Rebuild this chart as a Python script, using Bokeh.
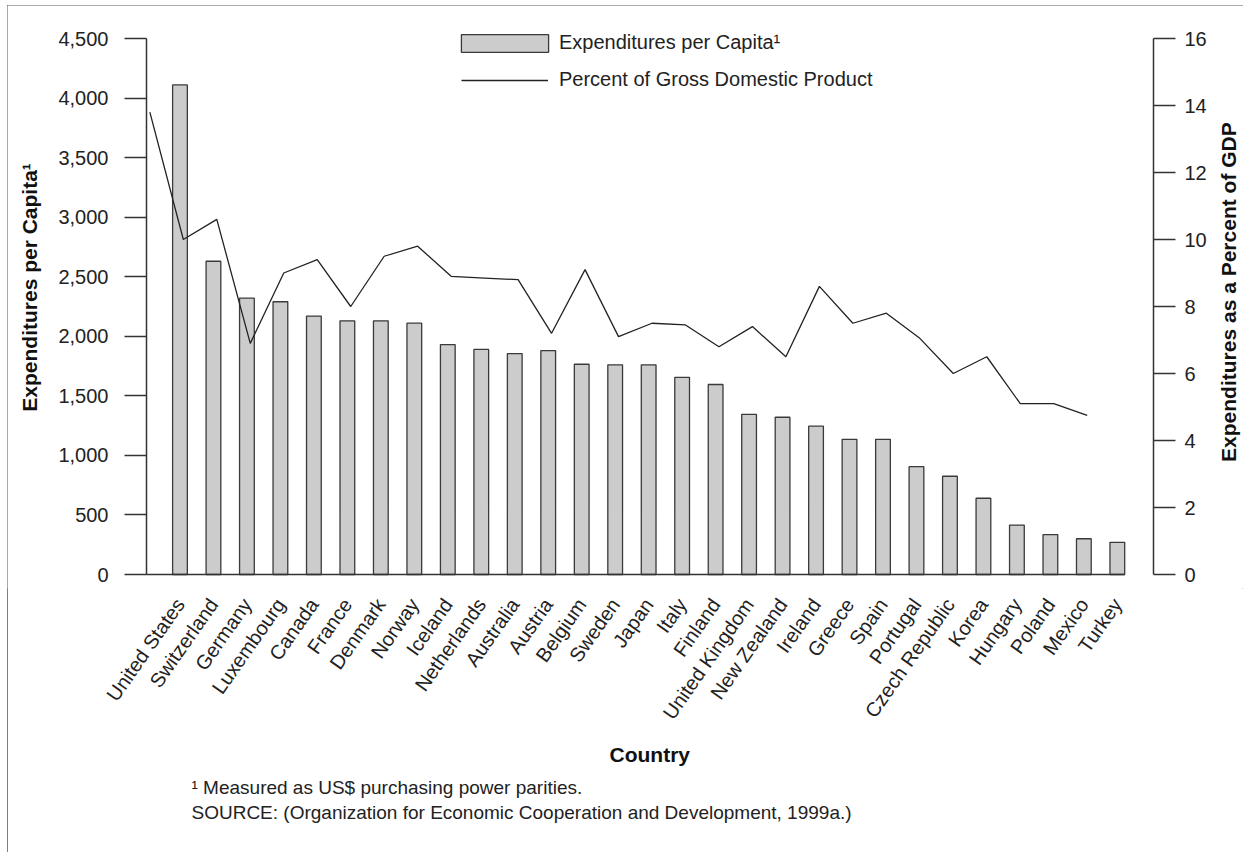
import numpy as np
from math import pi
from bokeh.plotting import figure
from bokeh.models import (Range1d, LinearAxis, FixedTicker, NumeralTickFormatter,
                          Legend, LegendItem, Title, Label)
from bokeh.embed import file_html
from bokeh.resources import INLINE

# ---------------- data ----------------
countries = ["United States", "Switzerland", "Germany", "Luxembourg", "Canada",
             "France", "Denmark", "Norway", "Iceland", "Netherlands", "Australia",
             "Austria", "Belgium", "Sweden", "Japan", "Italy", "Finland",
             "United Kingdom", "New Zealand", "Ireland", "Greece", "Spain",
             "Portugal", "Czech Republic", "Korea", "Hungary", "Poland",
             "Mexico", "Turkey"]
per_capita = [4110, 2630, 2320, 2290, 2170, 2130, 2130, 2110, 1930, 1890, 1855,
              1880, 1765, 1760, 1760, 1655, 1595, 1345, 1320, 1245, 1135, 1135,
              905, 825, 640, 415, 335, 300, 270]
pct_gdp = [13.8, 10.0, 10.6, 6.9, 9.0, 9.4, 8.0, 9.5, 9.8, 8.9, 8.85, 8.8, 7.2,
           9.1, 7.1, 7.5, 7.45, 6.8, 7.4, 6.5, 8.6, 7.5, 7.8, 7.05, 6.0, 6.5,
           5.1, 5.1, 4.75]
left_ticks = [0, 500, 1000, 1500, 2000, 2500, 3000, 3500, 4000, 4500]
right_ticks = [0, 2, 4, 6, 8, 10, 12, 14, 16]

FONT = "Liberation Sans"
AX = "#333333"
n = len(countries)
bar_x = np.arange(1, n + 1)
line_x = np.arange(n) + 0.1   # the line is drawn shifted as in the original

# ---- layout helpers (pixels); the plot area fills the canvas width and the
# ---- value axes sit inside it at fixed positions
W, H = 1236, 847
AXIS_PX = 536.0          # height of the value axes
TOP_PAD_PX = 33.0        # room above the axes (legend)
BOT_PAD_PX = 14.0        # room below the zero line (lowest tick labels)
PX_PER_CAT = 33.477      # horizontal spacing of the bars
LEFT_PAD_PX = 139.0      # from canvas left to the left axis

left_max = left_ticks[-1]
right_max = right_ticks[-1]
x_start = -LEFT_PAD_PX / PX_PER_CAT
x_end = x_start + W / PX_PER_CAT
RIGHT_AXIS_X = 30.08     # category-units position of the right axis


def vrange(top):
    return Range1d(-top * BOT_PAD_PX / AXIS_PX, top * (AXIS_PX + TOP_PAD_PX) / AXIS_PX)


frame_h = AXIS_PX + TOP_PAD_PX + BOT_PAD_PX
p = figure(width=W, height=H, output_backend="svg", toolbar_location=None,
           x_range=Range1d(x_start, x_end), y_range=vrange(left_max),
           min_border_left=0, min_border_right=0, min_border_top=0,
           min_border_bottom=int(H - frame_h))
p.outline_line_color = None
p.xgrid.grid_line_color = None
p.ygrid.grid_line_color = None
p.background_fill_color = "white"
p.border_fill_color = "white"
p.styles = {"margin-left": "7px", "margin-top": "5px",
            "outline": "1px solid #555555", "outline-offset": "-1px"}

p.extra_y_ranges = {"pct": vrange(right_max)}

bars = p.vbar(x=bar_x, top=per_capita, width=0.44, fill_color="#cccccc",
              line_color="#3a3a3a", line_width=1.3)
line = p.line(x=line_x, y=pct_gdp, y_range_name="pct", line_color="#222222",
              line_width=1.3)
p.segment(x0=[0], y0=[0], x1=[n + 0.22], y1=[0], line_color=AX, line_width=1.5)

# x axis (country labels only)
xa = p.xaxis[0]
xa.ticker = FixedTicker(ticks=[int(v) for v in bar_x])
xa.major_label_overrides = {int(i): c for i, c in zip(bar_x, countries)}
xa.axis_line_color = None
xa.major_tick_line_color = None
xa.major_tick_out = 0
xa.major_tick_in = 0
xa.minor_tick_line_color = None
xa.major_label_orientation = 55 * pi / 180
xa.major_label_text_font = FONT
xa.major_label_text_font_size = "20px"
xa.major_label_text_color = "#222222"
xa.major_label_standoff = 12

# left axis
ya = p.yaxis[0]
ya.ticker = FixedTicker(ticks=left_ticks)
ya.formatter = NumeralTickFormatter(format="0,0")
ya.bounds = (0, left_max)
ya.fixed_location = 0

# right axis
ra = LinearAxis(y_range_name="pct", ticker=FixedTicker(ticks=right_ticks),
                bounds=(0, right_max), fixed_location=RIGHT_AXIS_X)
p.add_layout(ra, "right")

for ax, standoff in ((ya, 16), (ra, 9)):
    ax.axis_line_color = AX
    ax.axis_line_width = 1.5
    ax.major_tick_line_color = AX
    ax.major_tick_line_width = 1.5
    ax.major_tick_out = 22
    ax.major_tick_in = 0
    ax.minor_tick_line_color = None
    ax.major_label_text_font = FONT
    ax.major_label_text_font_size = "20px"
    ax.major_label_text_color = "#222222"
    ax.major_label_standoff = standoff

# value-axis titles, reading upward
title_style = dict(angle=pi / 2, text_align="center", text_baseline="middle",
                   text_font=FONT, text_font_size="21px", text_font_style="bold",
                   text_color="#111111")
p.add_layout(Label(x=-3.495, y=2410, text="Expenditures per Capita\u00b9", **title_style))
p.add_layout(Label(x=32.32, y=8.43, y_range_name="pct",
                   text="Expenditures as a Percent of GDP", **title_style))

# legends (bar box and line drawn at the same width)
leg_bar = Legend(items=[LegendItem(label="Expenditures per Capita\u00b9", renderers=[bars])],
                 location=(443, 534), padding=0, margin=0,
                 glyph_width=109, glyph_height=22, label_height=18, label_standoff=0,
                 border_line_color=None, background_fill_alpha=0,
                 label_text_font=FONT, label_text_font_size="20px",
                 label_text_color="#222222")
leg_line = Legend(items=[LegendItem(label="Percent of Gross Domestic Product", renderers=[line])],
                  location=(454, 497), padding=0, margin=0,
                  glyph_width=87, glyph_height=18, label_height=18, label_standoff=11,
                  border_line_color=None, background_fill_alpha=0,
                  label_text_font=FONT, label_text_font_size="20px",
                  label_text_color="#222222")
p.add_layout(leg_bar)
p.add_layout(leg_line)

# x title and notes under the chart
p.add_layout(Title(text="Country", align="left", offset=602, standoff=16,
                   text_font=FONT, text_font_size="21px", text_font_style="bold",
                   text_color="#111111"), "below")
for txt in ("\u00b9 Measured as US$ purchasing power parities.",
            "SOURCE: (Organization for Economic Cooperation and Development, 1999a.)"):
    p.add_layout(Title(text=txt, align="left", offset=184, standoff=2,
                       text_font=FONT, text_font_size="19px",
                       text_font_style="normal", text_color="#222222"), "below")

open("out.html", "w").write(file_html(p, INLINE))
